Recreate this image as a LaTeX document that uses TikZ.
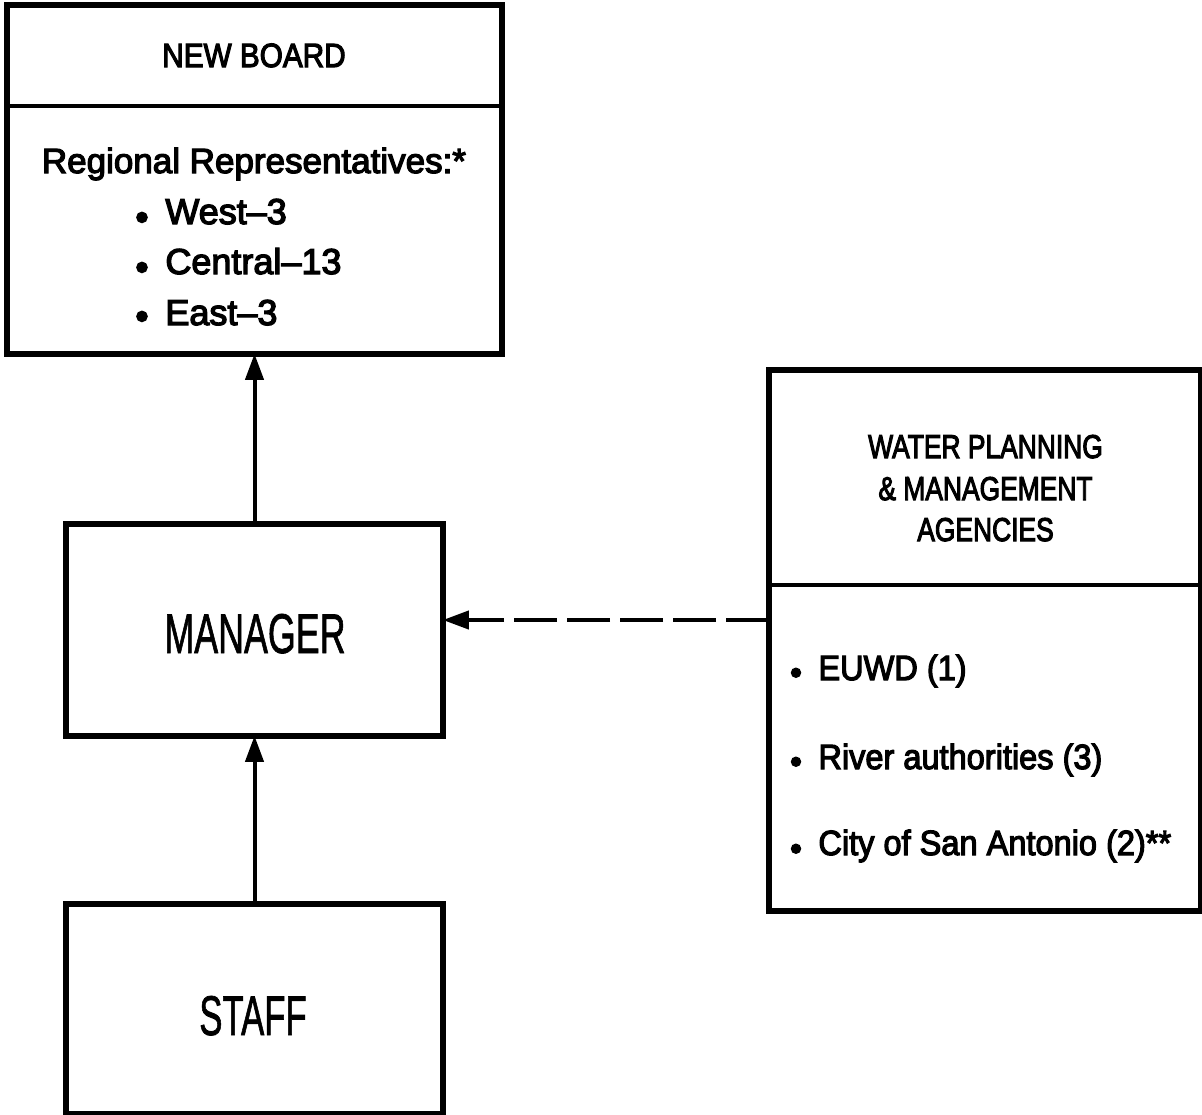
\documentclass[tikz,border=0pt]{standalone}
\usepackage{fontspec}
\setmainfont{Liberation Sans}[FakeBold=3.5]
\newfontfamily\plainfont{Liberation Sans}[FakeBold=1.5]
\usepackage{graphicx}
\usetikzlibrary{arrows.meta}
\newcommand{\sqz}[2]{\scalebox{#1}[1]{#2}}
\newcommand{\fs}[1]{\fontsize{#1}{#1}\selectfont}
\begin{document}
\begin{tikzpicture}[x=0.5pt,y=-0.5pt,
  boxpart/.style={draw=none, inner sep=0pt, outer sep=1.4pt},
  frame/.style={line width=2.8pt, line join=miter},
  divider/.style={line width=2.2pt},
  conn/.style={line width=2pt, -{Triangle[length=13pt,width=9pt]}},
  dconn/.style={conn, dash pattern=on 21.5pt off 5pt},
  lbl/.style={inner sep=0pt, anchor=base},
  item/.style={inner sep=0pt, anchor=base west},
  dot/.style={inner sep=0pt, anchor=base},
]
\useasboundingbox (0,0) rectangle (1202,1114);

% ---- NEW BOARD ----
\node[boxpart, minimum width=244.5pt, minimum height=47.5pt] (nbhead) at (254.5,55.5) {};
\node[boxpart, minimum width=244.5pt, minimum height=124pt] (nbbody) at (254.5,227) {};
\draw[frame] (nbhead.north west) rectangle (nbbody.south east);
\draw[divider] (nbhead.south west) -- (nbhead.south east);
\node[lbl] (nbtitle) at (254,67) {\fs{16.8}\sqz{0.885}{NEW BOARD}};
\node[lbl] (nbreg) at (254,173) {\fs{17.5}Regional Representatives:*};
\node[dot] (nbwd) at (142,230) {\fs{19}\textbullet};
\node[dot] (nbcd) at (142,280) {\fs{19}\textbullet};
\node[dot] (nbed) at (142,329) {\fs{19}\textbullet};
\node[item] (nbw) at (165,224) {\fs{18}West--3};
\node[item] (nbc) at (165,274) {\fs{18}Central--13};
\node[item] (nbe) at (165,325) {\fs{18}East--3};

% ---- MANAGER ----
\node[boxpart, minimum width=185.5pt, minimum height=103pt] (mgr) at (254.5,630) {};
\draw[frame] (mgr.north west) rectangle (mgr.south east);
\node[lbl] (mgrtxt) at (255,653) {\plainfont\fs{28}\sqz{0.64}{MANAGER}};

% ---- STAFF ----
\node[boxpart, minimum width=185.5pt, minimum height=102pt] (staff) at (254.5,1009) {};
\draw[frame] (staff.north west) rectangle (staff.south east);
\node[lbl] (stafftxt) at (253,1035) {\plainfont\fs{28}\sqz{0.62}{STAFF}};

% ---- WATER PLANNING ----
\node[boxpart, minimum width=213pt, minimum height=104.5pt] (wahead) at (985,477.5) {};
\node[boxpart, minimum width=213pt, minimum height=163pt] (wabody) at (985,745) {};
\draw[frame] (wahead.north west) rectangle (wabody.south east);
\draw[divider] (wahead.south west) -- (wahead.south east);
\node[lbl] (wa1) at (985.5,458) {\fs{16.5}\sqz{0.80}{WATER PLANNING}};
\node[lbl] (wa2) at (985.5,500) {\fs{16.5}\sqz{0.80}{\& MANAGEMENT}};
\node[lbl] (wa3) at (985.5,541) {\fs{16.5}\sqz{0.80}{AGENCIES}};
\node[dot] (wb1d) at (796,684) {\fs{17}\textbullet};
\node[dot] (wb2d) at (796,773) {\fs{17}\textbullet};
\node[dot] (wb3d) at (796,860) {\fs{17}\textbullet};
\node[item] (wb1) at (818,680) {\fs{17.5}\sqz{0.93}{EUWD (1)}};
\node[item] (wb2) at (818,769) {\fs{17.5}\sqz{0.93}{River authorities (3)}};
\node[item] (wb3) at (818,855) {\fs{17.5}\sqz{0.93}{City of San Antonio (2)**}};

% ---- connectors ----
\draw[conn] (mgr.north) -- (nbbody.south);
\draw[conn] (staff.north) -- (mgr.south);
\coordinate (dashy) at (0,620);
\draw[dconn] (wabody.west |- dashy) -- (mgr.east |- dashy);
\end{tikzpicture}
\end{document}
